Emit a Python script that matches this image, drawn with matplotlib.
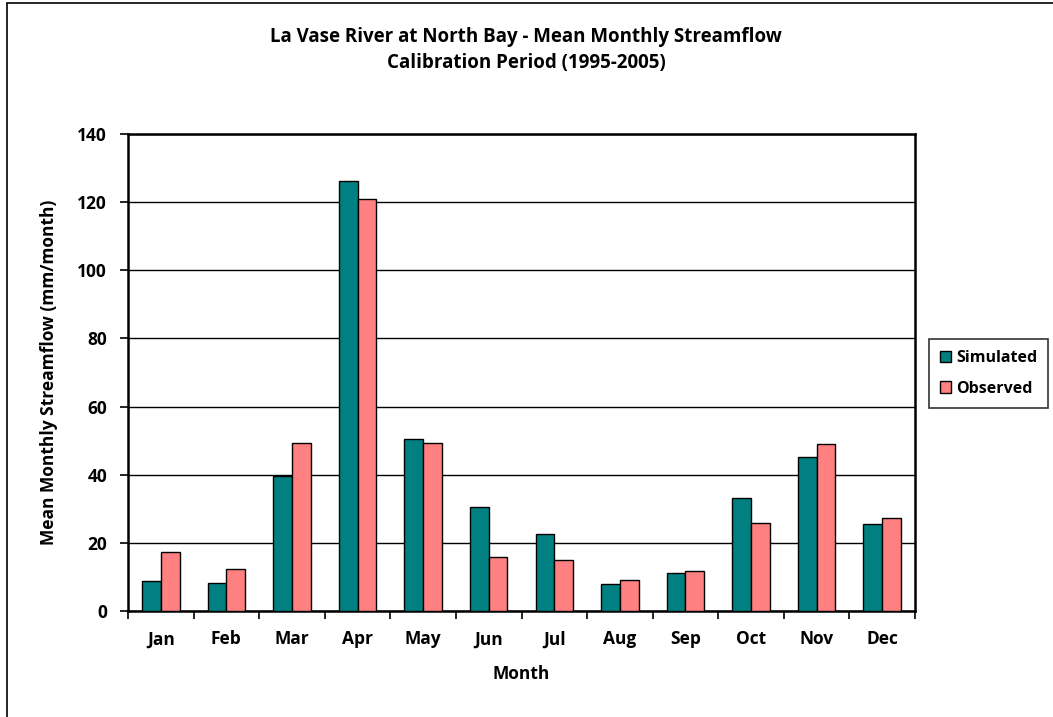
import numpy as np
import matplotlib
matplotlib.use("Agg")
import matplotlib.pyplot as plt
from matplotlib.patches import Rectangle

plt.rcParams['font.family'] = ['Open Sans', 'DejaVu Sans']
plt.rcParams['font.weight'] = 'bold'

months = ['Jan', 'Feb', 'Mar', 'Apr', 'May', 'Jun', 'Jul', 'Aug', 'Sep', 'Oct', 'Nov', 'Dec']
simulated = [8.9, 8.2, 39.5, 126.1, 50.5, 30.6, 22.6, 7.9, 11.1, 33.3, 45.3, 25.5]
observed = [17.4, 12.3, 49.2, 121.0, 49.2, 15.9, 15.1, 9.2, 11.7, 25.9, 48.9, 27.4]

fig = plt.figure(figsize=(10.53, 7.17), dpi=100)
ax = fig.add_axes([128/1053, 1 - 611/717, (915-128)/1053, (611-134)/717])

# outer chart frame
fig.patches.append(Rectangle((7/1053, -0.01), 1.01, 1 - 3/717 + 0.01, transform=fig.transFigure,
                             fill=False, edgecolor='black', linewidth=1.2))

x = np.arange(len(months))
w = 1 / 3.5
ax.bar(x - w/2, simulated, w, color='#008080', edgecolor='black', linewidth=1, label='Simulated', zorder=3)
ax.bar(x + w/2, observed, w, color='#FF8080', edgecolor='black', linewidth=1, label='Observed', zorder=3)

ax.set_xlim(-0.5, len(months) - 0.5)
ax.set_ylim(0, 140)
ax.set_yticks(np.arange(0, 141, 20))
ax.yaxis.grid(True, color='black', linewidth=1)
ax.set_axisbelow(True)

# category boundaries carry the ticks, month names sit between them
ax.set_xticks(np.arange(-0.5, len(months)), labels=[])
ax.set_xticks(x, labels=months, minor=True)
ax.tick_params(axis='x', which='major', direction='out', length=6, width=1.2)
ax.tick_params(axis='x', which='minor', length=0, pad=14, labelsize=12.5)
ax.tick_params(axis='y', direction='out', length=6, width=1.2, pad=9, labelsize=12.5)

for s in ax.spines.values():
    s.set_linewidth(1.8)

ax.set_xlabel('Month', fontsize=12.5, fontweight='bold', labelpad=12)
ax.set_ylabel('Mean Monthly Streamflow (mm/month)', fontsize=12.5, fontweight='bold', labelpad=14)

fig.text(526/1053, 1 - 37/717, 'La Vase River at North Bay - Mean Monthly Streamflow',
         ha='center', va='center', fontsize=13.5, fontweight='bold')
fig.text(526/1053, 1 - 63/717, 'Calibration Period (1995-2005)',
         ha='center', va='center', fontsize=13.5, fontweight='bold')

leg = fig.legend(loc='upper left', bbox_to_anchor=(929/1053, 1 - 339/717), borderaxespad=0,
                 fontsize=11.5, frameon=True, fancybox=False, edgecolor='black',
                 handlelength=0.7, handleheight=0.7, handletextpad=0.3, labelspacing=0.9,
                 borderpad=0.7)
leg.get_frame().set_linewidth(1.2)

fig.savefig('out.png', dpi=100)
